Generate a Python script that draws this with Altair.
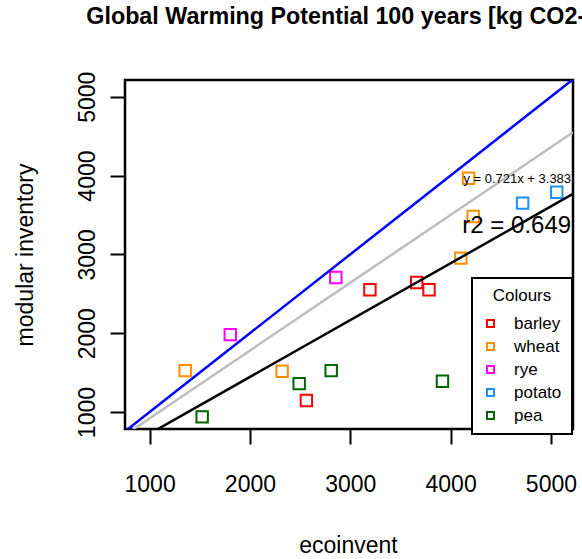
import altair as alt
import pandas as pd

FONT = "Liberation Sans"

# ---- data ----
crops = ["barley", "wheat", "rye", "potato", "pea"]
crop_colors = ["#FF0000", "#FF8C00", "#FF00FF", "#1E90FF", "#006400"]

barley_x = [3196, 3662, 3785, 2563]
barley_y = [2552, 2644, 2552, 1146]
wheat_x = [1355, 2321, 4102, 4225, 4179]
wheat_y = [1526, 1517, 2953, 3480, 3966]
rye_x = [1804, 2856]
rye_y = [1982, 2707]
potato_x = [4718, 5058]
potato_y = [3650, 3789]
pea_x = [1524, 2491, 2810, 3919]
pea_y = [939, 1361, 1526, 1390]

x_domain = [755, 5220]
y_domain = [785, 5212]
x_ticks = [1000, 2000, 3000, 4000, 5000]
y_ticks = [1000, 2000, 3000, 4000, 5000]

# straight lines: y = intercept + slope * x
line_slopes = [1.0, 0.86, 0.721]
line_intercepts = [0.0, 60.0, 3.383]
line_colors = ["#0000FF", "#BEBEBE", "#000000"]

eq_text = "y = 0.721x + 3.383"
r2_text = "r2 = 0.649"
eq_pos = [5201, 3907]
r2_pos = [5201, 3274]

title_text = "Global Warming Potential 100 years [kg CO2-Eq]"

# ---- build tables ----
xs = {"barley": barley_x, "wheat": wheat_x, "rye": rye_x, "potato": potato_x, "pea": pea_x}
ys = {"barley": barley_y, "wheat": wheat_y, "rye": rye_y, "potato": potato_y, "pea": pea_y}
rows = []
for c in crops:
    for a, b in zip(xs[c], ys[c]):
        rows.append({"crop": c, "x": a, "y": b})
pts = pd.DataFrame(rows)

xscale = alt.Scale(domain=x_domain, nice=False, zero=False)
yscale = alt.Scale(domain=y_domain, nice=False, zero=False)

xaxis = alt.Axis(
    values=x_ticks, format="d", grid=False, domain=False,
    tickSize=15, tickWidth=2, tickColor="black",
    labelFont=FONT, labelFontSize=23, labelColor="black", labelPadding=29,
    labelFlush=False, labelOverlap=False,
    title="ecoinvent", titleFont=FONT, titleFontSize=23, titleFontWeight="normal",
    titleColor="black", titleX=223, titleY=123, titleBaseline="alphabetic",
    titleAlign="center",
)
yaxis = alt.Axis(
    values=y_ticks, format="d", grid=False, domain=False,
    tickSize=15, tickWidth=2, tickColor="black",
    labelFont=FONT, labelFontSize=23, labelColor="black", labelPadding=16,
    labelAngle=-90, labelAlign="center", labelBaseline="alphabetic",
    labelFlush=False, labelOverlap=False,
    title="modular inventory", titleFont=FONT, titleFontSize=23, titleFontWeight="normal",
    titleColor="black", titleX=-93, titleY=174.5, titleAngle=-90,
    titleBaseline="alphabetic", titleAlign="center",
)

points = alt.Chart(pts).mark_point(shape="square", filled=False, size=130, strokeWidth=2, opacity=1).encode(
    x=alt.X("x:Q", scale=xscale, axis=xaxis),
    y=alt.Y("y:Q", scale=yscale, axis=yaxis),
    color=alt.Color(
        "crop:N",
        scale=alt.Scale(domain=crops, range=crop_colors),
        legend=alt.Legend(
            title="Colours", orient="none", legendX=347, legendY=198,
            strokeColor="black", fillColor="white", padding=10,
            titleFont=FONT, titleFontSize=17, titleFontWeight="normal", titleColor="black",
            titleAnchor="middle", titlePadding=10,
            labelFont=FONT, labelFontSize=17, labelColor="black", labelOffset=15,
            symbolType="square", symbolSize=50, symbolStrokeWidth=2,
            rowPadding=5,
        ),
    ),
)

layers = [points]
for s, b, col in zip(line_slopes, line_intercepts, line_colors):
    ldf = pd.DataFrame({"x": x_domain, "y": [b + s * v for v in x_domain]})
    layers.append(
        alt.Chart(ldf).mark_line(color=col, strokeWidth=2.5, clip=True).encode(
            x=alt.X("x:Q", scale=xscale), y=alt.Y("y:Q", scale=yscale)
        )
    )

eq_df = pd.DataFrame({"x": [eq_pos[0]], "y": [eq_pos[1]], "t": [eq_text]})
r2_df = pd.DataFrame({"x": [r2_pos[0]], "y": [r2_pos[1]], "t": [r2_text]})
layers.append(
    alt.Chart(eq_df).mark_text(align="right", baseline="alphabetic", font=FONT, fontSize=13, color="black").encode(
        x=alt.X("x:Q", scale=xscale), y=alt.Y("y:Q", scale=yscale), text="t:N"
    )
)
layers.append(
    alt.Chart(r2_df).mark_text(align="right", baseline="alphabetic", font=FONT, fontSize=24, color="black").encode(
        x=alt.X("x:Q", scale=xscale), y=alt.Y("y:Q", scale=yscale), text="t:N"
    )
)

chart = alt.layer(*layers).properties(
    width=448, height=349,
    title=alt.TitleParams(
        text=title_text, font=FONT, fontSize=23.3, fontWeight="bold", color="black",
        anchor="middle", frame="group", baseline="alphabetic", offset=24, dx=5.5,
    ),
    autosize=alt.AutoSizeParams(type="none"),
    padding={"left": 125, "top": 80, "right": 9, "bottom": 130},
    background="white",
).configure_view(stroke="black", strokeWidth=2.5).configure_legend(strokeWidth=2)

chart.save("out.html", embed_options={"renderer": "svg", "actions": False})
